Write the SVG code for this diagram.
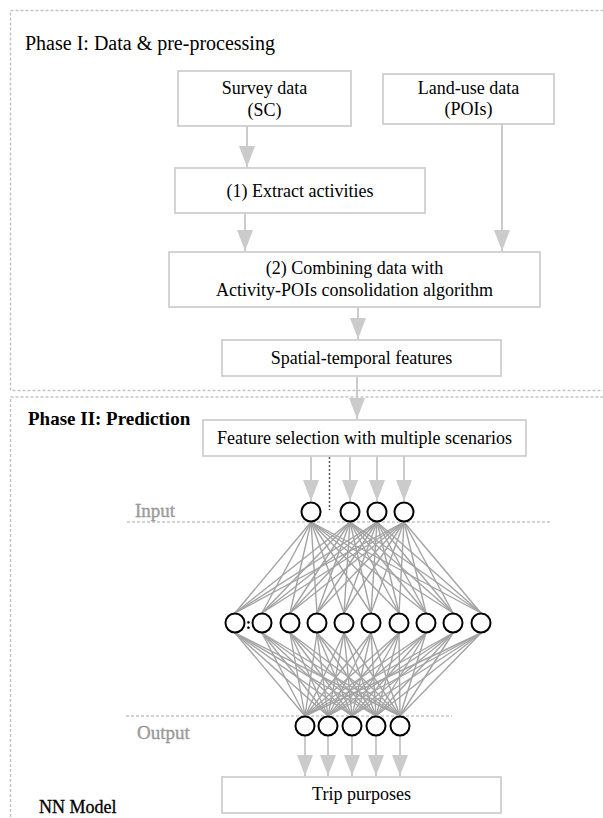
<svg xmlns="http://www.w3.org/2000/svg" width="603" height="818" viewBox="0 0 603 818">
<style>
text{font-family:"Liberation Serif","Times New Roman",serif;fill:#000}
.t{font-size:18px;text-anchor:middle}
.box{fill:#fff;stroke:#cfcfcf;stroke-width:1.8}
.phase{fill:none;stroke:#c4c4c4;stroke-width:1.5;stroke-dasharray:3 2}
.arr{stroke:#cbcbcb;stroke-width:2;fill:none;marker-end:url(#ah)}
.e{stroke:#a3a3a3;stroke-width:1.4}
.n{fill:#fff;stroke:#000;stroke-width:2}
.lay{stroke:#c4c4c4;stroke-width:1.3;stroke-dasharray:3 2}
.lbl{font-size:19px;fill:#a0a0a0;stroke:#8a8a8a;stroke-width:0.3}
</style>
<defs>
<marker id="ah" viewBox="0 0 21 16" refX="21" refY="8" markerWidth="21" markerHeight="16" markerUnits="userSpaceOnUse" orient="auto">
<path d="M0,0 L21,8 L0,16 z" fill="#cbcbcb"/>
</marker>
</defs>
<rect width="603" height="818" fill="#fff"/>
<g id="phase1">
<rect class="phase" x="10.5" y="10.5" width="640" height="380"/>
<text x="25" y="50" font-size="20">Phase I: Data &amp; pre-processing</text>
</g>
<g id="phase2">
<rect class="phase" x="10.5" y="397" width="640" height="500"/>
<text x="28" y="425" font-size="19" font-weight="bold">Phase II: Prediction</text>
<text x="39" y="813" font-size="18" stroke="#000" stroke-width="0.3">NN Model</text>
</g>
<g id="connectors">
<line class="arr" x1="247" y1="126" x2="247" y2="167"/>
<line class="arr" x1="245" y1="213" x2="245" y2="251"/>
<line class="arr" x1="502" y1="124" x2="502" y2="251"/>
<line class="arr" x1="358" y1="307" x2="358" y2="339"/>
<line class="arr" x1="357" y1="376" x2="357" y2="419"/>
<line class="arr" x1="311" y1="456" x2="311" y2="501"/>
<line class="arr" x1="350" y1="456" x2="350" y2="501"/>
<line class="arr" x1="377" y1="456" x2="377" y2="501"/>
<line class="arr" x1="404" y1="456" x2="404" y2="501"/>
<line x1="329.5" y1="457" x2="329.5" y2="510" stroke="#555" stroke-width="1.5" stroke-dasharray="2 2"/>
<line class="arr" x1="305" y1="736" x2="305" y2="776"/>
<line class="arr" x1="328" y1="736" x2="328" y2="776"/>
<line class="arr" x1="352" y1="736" x2="352" y2="776"/>
<line class="arr" x1="376" y1="736" x2="376" y2="776"/>
<line class="arr" x1="400" y1="736" x2="400" y2="776"/>
<g id="edges-in-hidden">
<line class="e" x1="311" y1="522" x2="235" y2="613"/><line class="e" x1="311" y1="522" x2="262" y2="613"/><line class="e" x1="311" y1="522" x2="290" y2="613"/><line class="e" x1="311" y1="522" x2="317" y2="613"/><line class="e" x1="311" y1="522" x2="344" y2="613"/><line class="e" x1="311" y1="522" x2="371" y2="613"/><line class="e" x1="311" y1="522" x2="399" y2="613"/><line class="e" x1="311" y1="522" x2="426" y2="613"/><line class="e" x1="311" y1="522" x2="453" y2="613"/><line class="e" x1="311" y1="522" x2="481" y2="613"/>
<line class="e" x1="350" y1="522" x2="235" y2="613"/><line class="e" x1="350" y1="522" x2="262" y2="613"/><line class="e" x1="350" y1="522" x2="290" y2="613"/><line class="e" x1="350" y1="522" x2="317" y2="613"/><line class="e" x1="350" y1="522" x2="344" y2="613"/><line class="e" x1="350" y1="522" x2="371" y2="613"/><line class="e" x1="350" y1="522" x2="399" y2="613"/><line class="e" x1="350" y1="522" x2="426" y2="613"/><line class="e" x1="350" y1="522" x2="453" y2="613"/><line class="e" x1="350" y1="522" x2="481" y2="613"/>
<line class="e" x1="377" y1="522" x2="235" y2="613"/><line class="e" x1="377" y1="522" x2="262" y2="613"/><line class="e" x1="377" y1="522" x2="290" y2="613"/><line class="e" x1="377" y1="522" x2="317" y2="613"/><line class="e" x1="377" y1="522" x2="344" y2="613"/><line class="e" x1="377" y1="522" x2="371" y2="613"/><line class="e" x1="377" y1="522" x2="399" y2="613"/><line class="e" x1="377" y1="522" x2="426" y2="613"/><line class="e" x1="377" y1="522" x2="453" y2="613"/><line class="e" x1="377" y1="522" x2="481" y2="613"/>
<line class="e" x1="404" y1="522" x2="235" y2="613"/><line class="e" x1="404" y1="522" x2="262" y2="613"/><line class="e" x1="404" y1="522" x2="290" y2="613"/><line class="e" x1="404" y1="522" x2="317" y2="613"/><line class="e" x1="404" y1="522" x2="344" y2="613"/><line class="e" x1="404" y1="522" x2="371" y2="613"/><line class="e" x1="404" y1="522" x2="399" y2="613"/><line class="e" x1="404" y1="522" x2="426" y2="613"/><line class="e" x1="404" y1="522" x2="453" y2="613"/><line class="e" x1="404" y1="522" x2="481" y2="613"/>
</g>
<g id="edges-hidden-out">
<line class="e" x1="235" y1="633" x2="305" y2="716"/><line class="e" x1="235" y1="633" x2="328" y2="716"/><line class="e" x1="235" y1="633" x2="352" y2="716"/><line class="e" x1="235" y1="633" x2="376" y2="716"/><line class="e" x1="235" y1="633" x2="400" y2="716"/>
<line class="e" x1="262" y1="633" x2="305" y2="716"/><line class="e" x1="262" y1="633" x2="328" y2="716"/><line class="e" x1="262" y1="633" x2="352" y2="716"/><line class="e" x1="262" y1="633" x2="376" y2="716"/><line class="e" x1="262" y1="633" x2="400" y2="716"/>
<line class="e" x1="290" y1="633" x2="305" y2="716"/><line class="e" x1="290" y1="633" x2="328" y2="716"/><line class="e" x1="290" y1="633" x2="352" y2="716"/><line class="e" x1="290" y1="633" x2="376" y2="716"/><line class="e" x1="290" y1="633" x2="400" y2="716"/>
<line class="e" x1="317" y1="633" x2="305" y2="716"/><line class="e" x1="317" y1="633" x2="328" y2="716"/><line class="e" x1="317" y1="633" x2="352" y2="716"/><line class="e" x1="317" y1="633" x2="376" y2="716"/><line class="e" x1="317" y1="633" x2="400" y2="716"/>
<line class="e" x1="344" y1="633" x2="305" y2="716"/><line class="e" x1="344" y1="633" x2="328" y2="716"/><line class="e" x1="344" y1="633" x2="352" y2="716"/><line class="e" x1="344" y1="633" x2="376" y2="716"/><line class="e" x1="344" y1="633" x2="400" y2="716"/>
<line class="e" x1="371" y1="633" x2="305" y2="716"/><line class="e" x1="371" y1="633" x2="328" y2="716"/><line class="e" x1="371" y1="633" x2="352" y2="716"/><line class="e" x1="371" y1="633" x2="376" y2="716"/><line class="e" x1="371" y1="633" x2="400" y2="716"/>
<line class="e" x1="399" y1="633" x2="305" y2="716"/><line class="e" x1="399" y1="633" x2="328" y2="716"/><line class="e" x1="399" y1="633" x2="352" y2="716"/><line class="e" x1="399" y1="633" x2="376" y2="716"/><line class="e" x1="399" y1="633" x2="400" y2="716"/>
<line class="e" x1="426" y1="633" x2="305" y2="716"/><line class="e" x1="426" y1="633" x2="328" y2="716"/><line class="e" x1="426" y1="633" x2="352" y2="716"/><line class="e" x1="426" y1="633" x2="376" y2="716"/><line class="e" x1="426" y1="633" x2="400" y2="716"/>
<line class="e" x1="453" y1="633" x2="305" y2="716"/><line class="e" x1="453" y1="633" x2="328" y2="716"/><line class="e" x1="453" y1="633" x2="352" y2="716"/><line class="e" x1="453" y1="633" x2="376" y2="716"/><line class="e" x1="453" y1="633" x2="400" y2="716"/>
<line class="e" x1="481" y1="633" x2="305" y2="716"/><line class="e" x1="481" y1="633" x2="328" y2="716"/><line class="e" x1="481" y1="633" x2="352" y2="716"/><line class="e" x1="481" y1="633" x2="376" y2="716"/><line class="e" x1="481" y1="633" x2="400" y2="716"/>
</g>
</g>
<g id="survey"><rect class="box" x="178" y="71" width="173" height="55"/><text class="t" x="264.5" y="94">Survey data</text><text class="t" x="264.5" y="116">(SC)</text></g>
<g id="landuse"><rect class="box" x="383" y="74" width="171" height="50"/><text class="t" x="468.5" y="94">Land-use data</text><text class="t" x="468.5" y="115">(POIs)</text></g>
<g id="extract"><rect class="box" x="175" y="168" width="250" height="45"/><text class="t" x="300" y="197">(1) Extract activities</text></g>
<g id="combine"><rect class="box" x="169" y="252" width="371" height="55"/><text class="t" x="354.5" y="274">(2) Combining data with</text><text class="t" x="354.5" y="296">Activity-POIs consolidation algorithm</text></g>
<g id="spatial"><rect class="box" x="222" y="340" width="279" height="36"/><text class="t" x="361.5" y="364">Spatial-temporal features</text></g>
<g id="feature"><rect class="box" x="203" y="420" width="323" height="36"/><text class="t" x="364.5" y="444">Feature selection with multiple scenarios</text></g>
<g id="layers">
<line class="lay" x1="127" y1="522" x2="552" y2="522"/>
<text class="lbl" x="135" y="517">Input</text>
<line class="lay" x1="126" y1="716" x2="452" y2="716"/>
<text class="lbl" x="137" y="739">Output</text>
</g>
<g id="input-layer">
<circle class="n" cx="311" cy="512" r="9.5"/><circle class="n" cx="350" cy="512" r="9.5"/><circle class="n" cx="377" cy="512" r="9.5"/><circle class="n" cx="404" cy="512" r="9.5"/>
</g>
<g id="hidden-layer">
<circle class="n" cx="235" cy="623" r="9.5"/><circle class="n" cx="262" cy="623" r="9.5"/><circle class="n" cx="290" cy="623" r="9.5"/><circle class="n" cx="317" cy="623" r="9.5"/><circle class="n" cx="344" cy="623" r="9.5"/><circle class="n" cx="371" cy="623" r="9.5"/><circle class="n" cx="399" cy="623" r="9.5"/><circle class="n" cx="426" cy="623" r="9.5"/><circle class="n" cx="453" cy="623" r="9.5"/><circle class="n" cx="481" cy="623" r="9.5"/>
<text x="248.5" y="629" font-size="16" font-weight="bold" text-anchor="middle">:</text>
</g>
<g id="output-layer">
<circle class="n" cx="305" cy="726" r="9.5"/><circle class="n" cx="328" cy="726" r="9.5"/><circle class="n" cx="352" cy="726" r="9.5"/><circle class="n" cx="376" cy="726" r="9.5"/><circle class="n" cx="400" cy="726" r="9.5"/>
</g>
<g id="trip"><rect class="box" x="222" y="777" width="279" height="36"/><text class="t" x="361.5" y="800">Trip purposes</text></g>
</svg>
